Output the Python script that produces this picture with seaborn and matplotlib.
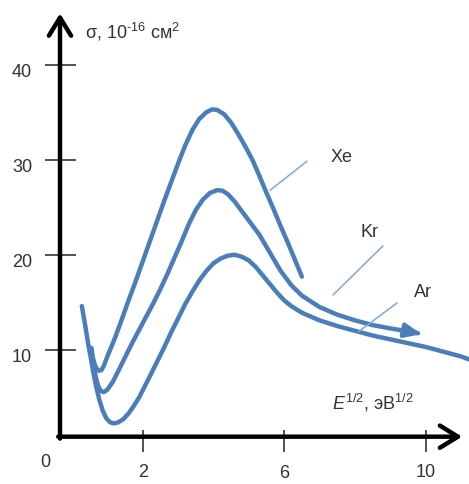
import numpy as np
import pandas as pd
import matplotlib
matplotlib.use("Agg")
import matplotlib.pyplot as plt
import seaborn as sns

# ---- data ----
gases = ["Xe", "Kr", "Ar"]

xe_x = [0.55, 0.59, 0.64, 0.70, 0.76, 0.83, 0.90, 1.0, 1.1, 1.2, 1.4, 1.6, 1.8, 2.0, 2.2, 2.4, 2.6, 2.8,
        3.0, 3.2, 3.4, 3.6, 3.8, 3.96, 4.1, 4.3, 4.5, 4.7, 4.9, 5.1, 5.3, 5.5, 5.7, 5.9, 6.1, 6.3, 6.5]
xe_y = [10.2, 9.2, 8.5, 8.0, 7.8, 7.85, 8.3, 9.3, 10.2, 11.1, 13.1, 15.2, 17.2, 19.3, 21.4, 23.5, 25.6, 27.6,
        29.6, 31.5, 33.1, 34.3, 35.0, 35.3, 35.25, 34.8, 33.9, 32.7, 31.4, 30.0, 28.3, 26.5, 24.8, 23.0, 21.3, 19.5, 17.7]

kr_x = [0.54, 0.60, 0.67, 0.74, 0.82, 0.90, 1.0, 1.15, 1.3, 1.5, 1.7, 1.9, 2.1, 2.3, 2.5, 2.7, 2.9, 3.1, 3.3,
        3.5, 3.7, 3.9, 4.1, 4.25, 4.4, 4.6, 4.8, 5.0, 5.3, 5.6, 5.9, 6.2, 6.5, 7.0, 7.5, 8.0, 8.5, 9.0, 9.5, 9.78]
kr_y = [10.0, 8.6, 7.2, 6.2, 5.65, 5.55, 5.8, 6.6, 7.7, 9.2, 10.7, 12.1, 13.5, 14.9, 16.4, 18.0, 19.7, 21.4, 23.2,
        24.7, 25.8, 26.5, 26.8, 26.75, 26.4, 25.6, 24.6, 23.6, 22.1, 20.2, 18.3, 16.8, 15.7, 14.5, 13.7, 13.1, 12.6, 12.25, 11.95, 11.75]

ar_x = [0.28, 0.34, 0.40, 0.46, 0.53, 0.60, 0.68, 0.77, 0.87, 0.97, 1.07, 1.17, 1.30, 1.45, 1.60, 1.75, 1.90,
        2.05, 2.2, 2.4, 2.6, 2.8, 3.0, 3.2, 3.4, 3.6, 3.8, 4.0, 4.2, 4.4, 4.6, 4.8, 5.0, 5.2, 5.4, 5.6, 5.8,
        6.0, 6.2, 6.5, 7.0, 7.5, 8.0, 8.5, 9.0, 9.5, 10.0, 10.5, 11.0, 11.22]
ar_y = [14.6, 13.3, 12.0, 10.6, 9.2, 7.7, 6.2, 4.8, 3.6, 2.8, 2.4, 2.25, 2.35, 2.7, 3.3, 4.1, 5.0,
        6.1, 7.2, 8.7, 10.2, 11.8, 13.3, 14.8, 16.1, 17.3, 18.3, 19.1, 19.6, 19.9, 20.0, 19.8, 19.4, 18.7, 17.8, 16.9, 16.0,
        15.2, 14.6, 13.9, 13.1, 12.5, 12.0, 11.5, 11.1, 10.7, 10.3, 9.8, 9.3, 9.0]

x_ticks = [2, 6, 10]
y_ticks = [10, 20, 30, 40]
x_tick_labels = ["2", "6", "10"]
y_tick_labels = ["10", "20", "30", "40"]

df = pd.concat([
    pd.DataFrame({"E": xe_x, "sigma": xe_y, "gas": "Xe"}),
    pd.DataFrame({"E": kr_x, "sigma": kr_y, "gas": "Kr"}),
    pd.DataFrame({"E": ar_x, "sigma": ar_y, "gas": "Ar"}),
])

# ---- style ----
sns.set_theme(style="white")
plt.rcParams['font.family'] = ['Liberation Sans', 'DejaVu Sans']
plt.rcParams['mathtext.fontset'] = 'custom'
plt.rcParams['mathtext.rm'] = 'Liberation Sans'
plt.rcParams['mathtext.it'] = 'Liberation Sans:italic'

blue = '#4a7ebb'
light = '#7ea8da'
txt = '#333333'

fig = plt.figure(figsize=(4.69, 4.84), dpi=100)
ax = fig.add_axes([0, 0, 1, 1])
ax.set_xlim(-2.034, 11.224)
ax.set_ylim(-4.12, 46.81)
ax.axis('off')

sns.lineplot(data=df, x="E", y="sigma", hue="gas", sort=False, estimator=None,
             palette={g: blue for g in gases}, legend=False, ax=ax,
             linewidth=3.2, solid_capstyle='round', solid_joinstyle='round')

# arrowhead at end of Kr curve
ax.annotate('', xy=(kr_x[-1] + 0.1, kr_y[-1] - 0.1), xytext=(kr_x[-2], kr_y[-2]),
            arrowprops=dict(arrowstyle='-|>,head_length=0.7,head_width=0.3',
                            color=blue, lw=3, shrinkA=0, shrinkB=0, mutation_scale=14))

# axes with arrows
x0, y0 = -0.338, 0.858
ax.annotate('', xy=(x0, 45.4), xytext=(x0, y0 - 0.2),
            arrowprops=dict(arrowstyle='->,head_length=0.65,head_width=0.4',
                            color='black', lw=3.2, shrinkA=0, shrinkB=0, mutation_scale=20))
ax.annotate('', xy=(11.03, y0), xytext=(x0 - 0.05, y0),
            arrowprops=dict(arrowstyle='->,head_length=0.65,head_width=0.4',
                            color='black', lw=3.2, shrinkA=0, shrinkB=0, mutation_scale=20))

# ticks
ax.hlines(y_ticks, -0.762, 0.114, color=txt, lw=1.2)
ax.vlines(x_ticks, -0.75, 1.56, color=txt, lw=1.2)

fs = 13
for v, lab in zip(y_ticks, y_tick_labels):
    ax.text(-1.412, v - 0.85, lab, ha='center', va='center', fontsize=fs, color=txt)
x_lab_y = [-2.86, -3.0, -2.86]
for v, lab, yy in zip(x_ticks, x_tick_labels, x_lab_y):
    ax.text(v, yy, lab, ha='center', va='center', fontsize=fs, color=txt)
ax.text(-0.762, -1.91, "0", ha='center', va='center', fontsize=fs, color=txt)

# axis titles
ax.text(0.369, 42.8, r'σ, 10$^{\text{-16}}$ см$^{2}$', ha='left', va='baseline', fontsize=fs, color=txt)
ax.text(7.35, 3.67, r'$\mathit{E}^{1/2}$, эВ$^{1/2}$', ha='left', va='baseline', fontsize=fs, color=txt)

# gas labels with leader lines
ax.plot([5.60, 6.645], [26.79, 29.84], color=light, lw=1.1)
ax.plot([7.38, 8.79], [15.77, 20.93], color=light, lw=1.1)
ax.plot([8.09, 9.19], [11.88, 14.93], color=light, lw=1.1)
ax.text(7.63, 30.19, "Xe", ha='center', va='center', fontsize=fs, color=txt)
ax.text(8.40, 22.39, "Kr", ha='center', va='center', fontsize=fs, color=txt)
ax.text(9.92, 15.98, "Ar", ha='center', va='center', fontsize=fs, color=txt)

fig.savefig("out.png", dpi=100)
